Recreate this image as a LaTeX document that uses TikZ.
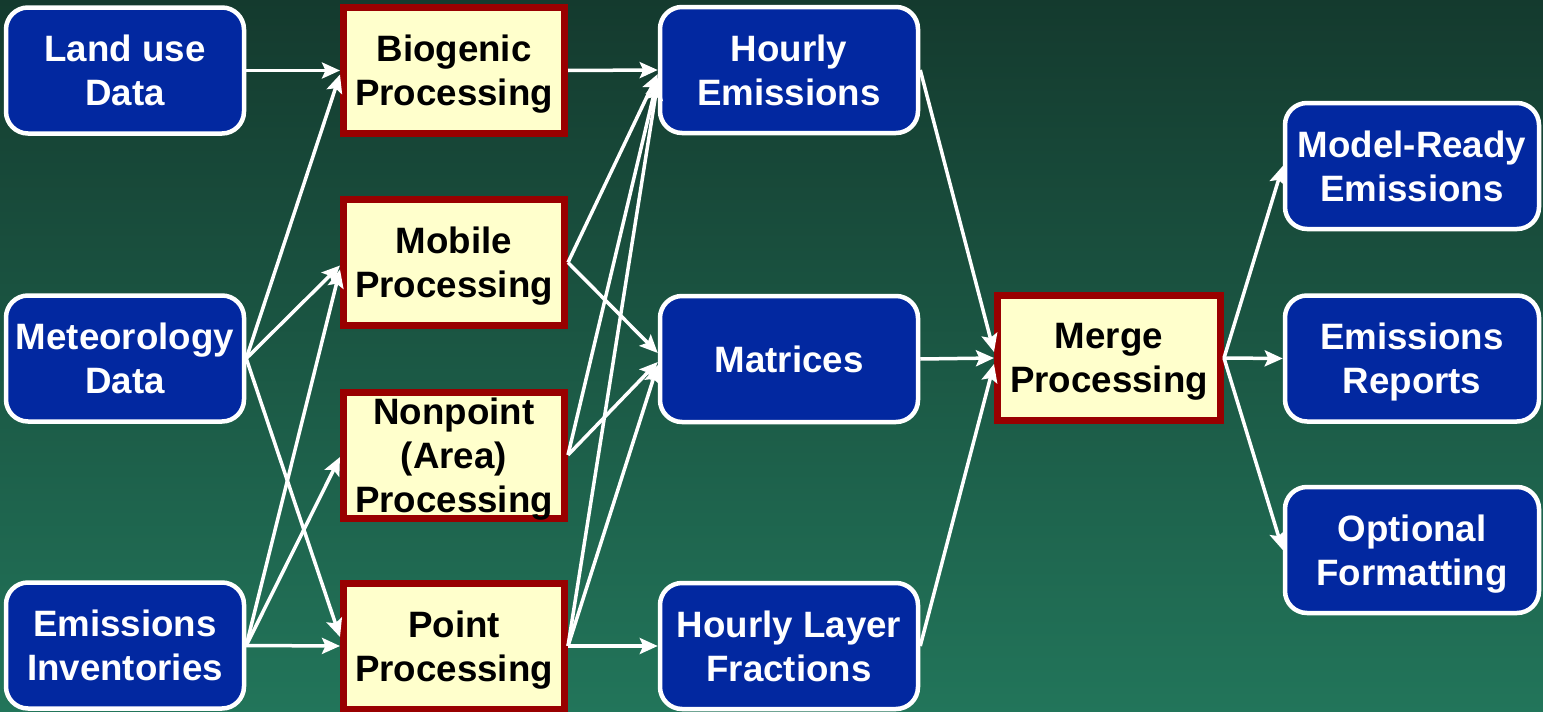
\documentclass[tikz,border=0pt]{standalone}
\usepackage{fontspec}
\setmainfont{Liberation Sans}
\usetikzlibrary{arrows.meta}
\definecolor{bgtop}{RGB}{20,58,46}
\definecolor{bgbot}{RGB}{34,117,90}
\definecolor{boxblue}{RGB}{2,40,160}
\definecolor{procred}{RGB}{153,0,0}
\definecolor{procfill}{RGB}{255,255,204}
\begin{document}
\begin{tikzpicture}[x=1pt,y=-1pt,
  boxfont/.style={font=\fontsize{36.7}{44}\selectfont\bfseries},
  bluebox/.style={boxfont, draw=white, line width=4.5pt, fill=boxblue,
    rounded corners=22pt, text=white, align=center, inner sep=0pt,
    text depth=0pt, minimum height=126pt},
  procbox/.style={boxfont, draw=procred, line width=7pt, fill=procfill,
    text=black, align=center, inner sep=0pt, text depth=0pt,
    minimum width=221pt, minimum height=126pt},
  flow/.style={draw=white, line width=3.5pt,
    -{Stealth[length=18pt,width=16pt,inset=3.5pt]}}]
\useasboundingbox (0,0) rectangle (1543,712);
\shade[top color=bgtop, bottom color=bgbot] (0,0) rectangle (1543,712);

% left column
\node[bluebox, minimum width=238pt] (land) at (125,70.5) {Land use\\Data};
\node[bluebox, minimum width=238pt] (met) at (125,358.5) {Meteorology\\Data};
\node[bluebox, minimum width=238pt] (eminv) at (125,645.5) {Emissions\\Inventories};

% processing column
\node[procbox] (bio) at (454,70.5) {Biogenic\\Processing};
\node[procbox] (mobile) at (454,262.5) {Mobile\\Processing};
\node[procbox] (nonpoint) at (454,455) {Nonpoint\\(Area)\\Processing};
\node[procbox] (point) at (454,646) {Point\\Processing};

% middle column
\node[bluebox, minimum width=258pt] (he) at (789,70) {Hourly\\Emissions};
\node[bluebox, minimum width=258pt] (mat) at (789,359) {Matrices};
\node[bluebox, minimum width=258pt] (hlf) at (789,646) {Hourly Layer\\Fractions};

% merge
\node[procbox, minimum width=223pt, minimum height=125pt] (merge) at (1109,358) {Merge\\Processing};

% right column
\node[bluebox, minimum width=254pt] (mr) at (1412,166) {Model-Ready\\Emissions};
\node[bluebox, minimum width=254pt] (rep) at (1412,358.5) {Emissions\\Reports};
\node[bluebox, minimum width=254pt] (opt) at (1412,550) {Optional\\Formatting};

% inputs to processing
\draw[flow] (land.east) -- (bio.west);
\draw[flow] (met.east) -- ([yshift=-4pt]bio.west);
\draw[flow] (met.east) -- ([yshift=-3pt]mobile.west);
\draw[flow] (met.east) -- ([yshift=9pt]point.west);
\draw[flow] (eminv.east) -- ([yshift=-7pt]mobile.west);
\draw[flow] (eminv.east) -- ([yshift=-2pt]nonpoint.west);
\draw[flow] (eminv.east) -- (point.west);

% processing to intermediate
\draw[flow] (bio.east) -- (he.west);
\draw[flow] (mobile.east) -- ([yshift=-4pt]he.west);
\draw[flow] (mobile.east) -- ([yshift=6pt]mat.west);
\draw[flow] (nonpoint.east) -- ([yshift=-8pt]he.west);
\draw[flow] (nonpoint.east) -- ([yshift=-3pt]mat.west);
\draw[flow] (point.east) -- ([yshift=-12pt]he.west);
\draw[flow] (point.east) -- ([yshift=-6pt]mat.west);
\draw[flow] (point.east) -- (hlf.west);

% intermediate to merge
\draw[flow] (he.east) -- ([yshift=6pt]merge.west);
\draw[flow] (mat.east) -- (merge.west);
\draw[flow] (hlf.east) -- ([yshift=-6pt]merge.west);

% merge to outputs
\draw[flow] (merge.east) -- (mr.west);
\draw[flow] (merge.east) -- (rep.west);
\draw[flow] (merge.east) -- (opt.west);
\end{tikzpicture}
\end{document}
